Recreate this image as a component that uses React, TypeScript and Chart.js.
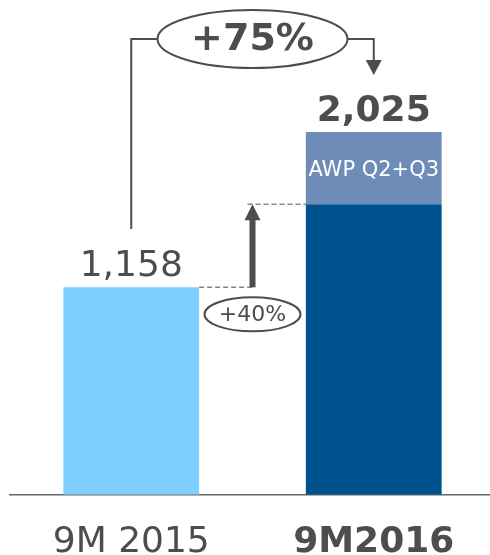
import { useRef, useEffect } from "react";
import { Chart, registerables } from "chart.js";

Chart.register(...registerables);

const categories = ["9M 2015", "9M2016"];
const baseValues = [1158, 1621];
const awpValues = [0, 404];
const totals = ["1,158", "2,025"];
const growthTotal = "+75%";
const growthBase = "+40%";
const awpLabel = "AWP Q2+Q3";

const FONT = "'DejaVu Sans', Verdana, sans-serif";
const TEXT = "#4d4d4d";

const overlay = {
  id: "overlay",
  afterDatasetsDraw(chart: Chart) {
    const { ctx } = chart;
    const x = chart.scales.x;
    const y = chart.scales.y;
    const x1 = x.getPixelForValue(0);
    const x2 = x.getPixelForValue(1);
    const mid = (x1 + x2) / 2;
    const bar1 = chart.getDatasetMeta(0).data[0] as any;
    const bar2 = chart.getDatasetMeta(0).data[1] as any;
    const top1 = y.getPixelForValue(baseValues[0]);
    const base2 = y.getPixelForValue(baseValues[1]);
    const top2 = y.getPixelForValue(baseValues[1] + awpValues[1]);
    const half1 = bar1.width / 2;
    const half2 = bar2.width / 2;

    ctx.save();
    ctx.fillStyle = TEXT;
    ctx.strokeStyle = TEXT;
    ctx.textAlign = "center";

    // value labels
    ctx.textBaseline = "alphabetic";
    ctx.font = `36px ${FONT}`;
    ctx.fillText(totals[0], x1, top1 - 11);
    ctx.font = `bold 36px ${FONT}`;
    ctx.fillText(totals[1], x2, top2 - 11);

    // AWP label inside the top segment
    ctx.fillStyle = "#ffffff";
    ctx.font = `21px ${FONT}`;
    ctx.textBaseline = "middle";
    ctx.fillText(awpLabel, x2, (top2 + base2) / 2 + 2);

    // dashed guides
    ctx.strokeStyle = "#888888";
    ctx.lineWidth = 1.5;
    ctx.setLineDash([5, 3]);
    ctx.beginPath();
    ctx.moveTo(x1 + half1, top1);
    ctx.lineTo(mid + 1, top1);
    ctx.moveTo(mid - 5, base2);
    ctx.lineTo(x2 - half2, base2);
    ctx.stroke();
    ctx.setLineDash([]);

    // +40% arrow
    ctx.fillStyle = TEXT;
    ctx.fillRect(mid - 3, base2 + 14, 6, top1 - base2 - 14);
    ctx.beginPath();
    ctx.moveTo(mid, base2);
    ctx.lineTo(mid + 8, base2 + 16);
    ctx.lineTo(mid - 8, base2 + 16);
    ctx.closePath();
    ctx.fill();

    // +40% ellipse
    const e2y = top1 + 27;
    ctx.fillStyle = "#ffffff";
    ctx.strokeStyle = TEXT;
    ctx.lineWidth = 2;
    ctx.beginPath();
    ctx.ellipse(mid, e2y, 48, 17, 0, 0, Math.PI * 2);
    ctx.fill();
    ctx.stroke();
    ctx.fillStyle = TEXT;
    ctx.font = `22px ${FONT}`;
    ctx.textBaseline = "middle";
    ctx.fillText(growthBase, mid, e2y + 1);

    // +75% bracket
    const by = 39;
    const rx = 95;
    ctx.lineWidth = 2;
    ctx.beginPath();
    ctx.moveTo(x1, 229);
    ctx.lineTo(x1, by);
    ctx.lineTo(mid - rx, by);
    ctx.moveTo(mid + rx, by);
    ctx.lineTo(x2, by);
    ctx.lineTo(x2, 62);
    ctx.stroke();
    ctx.beginPath();
    ctx.moveTo(x2 - 8, 60);
    ctx.lineTo(x2 + 8, 60);
    ctx.lineTo(x2, 75);
    ctx.closePath();
    ctx.fill();

    ctx.lineWidth = 2;
    ctx.fillStyle = "#ffffff";
    ctx.beginPath();
    ctx.ellipse(mid, by, rx, 29, 0, 0, Math.PI * 2);
    ctx.fill();
    ctx.stroke();
    ctx.fillStyle = TEXT;
    ctx.font = `bold 38px ${FONT}`;
    ctx.fillText(growthTotal, mid, by + 1);

    ctx.restore();
  },
};

const App = () => {
  const chartRef = useRef<HTMLCanvasElement>(null);
  const chartInstance = useRef<Chart | null>(null);

  useEffect(() => {
    if (!chartRef.current) return;
    if (chartInstance.current) chartInstance.current.destroy();
    const ctx = chartRef.current.getContext("2d");
    if (!ctx) return;

    chartInstance.current = new Chart(ctx, {
      type: "bar",
      data: {
        labels: categories,
        datasets: [
          {
            label: "Base",
            data: baseValues,
            backgroundColor: ["#7fcfff", "#00528e"],
            barPercentage: 0.56,
            categoryPercentage: 1,
          },
          {
            label: awpLabel,
            data: awpValues,
            backgroundColor: "#6e8cb8",
            barPercentage: 0.56,
            categoryPercentage: 1,
          },
        ],
      },
      options: {
        animation: false,
        responsive: true,
        maintainAspectRatio: false,
        layout: { padding: { left: 10, right: 0, top: 11, bottom: 4 } },
        plugins: {
          legend: { display: false },
          tooltip: { enabled: false },
        },
        scales: {
          x: {
            stacked: true,
            grid: { display: false, drawTicks: false },
            border: { display: true, color: "#666666", width: 1.5 },
            ticks: {
              color: TEXT,
              padding: 26,
              font: (c: any) => ({
                family: FONT,
                size: 36,
                weight: c.index === 1 ? "bold" : "normal",
                lineHeight: 1.2,
              }),
            },
          },
          y: {
            stacked: true,
            display: false,
            min: 0,
            max: 2700,
          },
        },
      },
      plugins: [overlay],
    });

    return () => {
      if (chartInstance.current) {
        chartInstance.current.destroy();
        chartInstance.current = null;
      }
    };
  }, []);

  return (
    <div
      style={{
        position: "fixed",
        left: 0,
        top: 0,
        width: 490,
        height: 555,
        overflow: "hidden",
        background: "#ffffff",
      }}
    >
      <div style={{ position: "relative", width: 495, height: 594 }}>
        <canvas
          ref={chartRef}
          role="img"
          aria-label="9M 2015 vs 9M2016 bar chart"
        ></canvas>
      </div>
    </div>
  );
};

export default App;
